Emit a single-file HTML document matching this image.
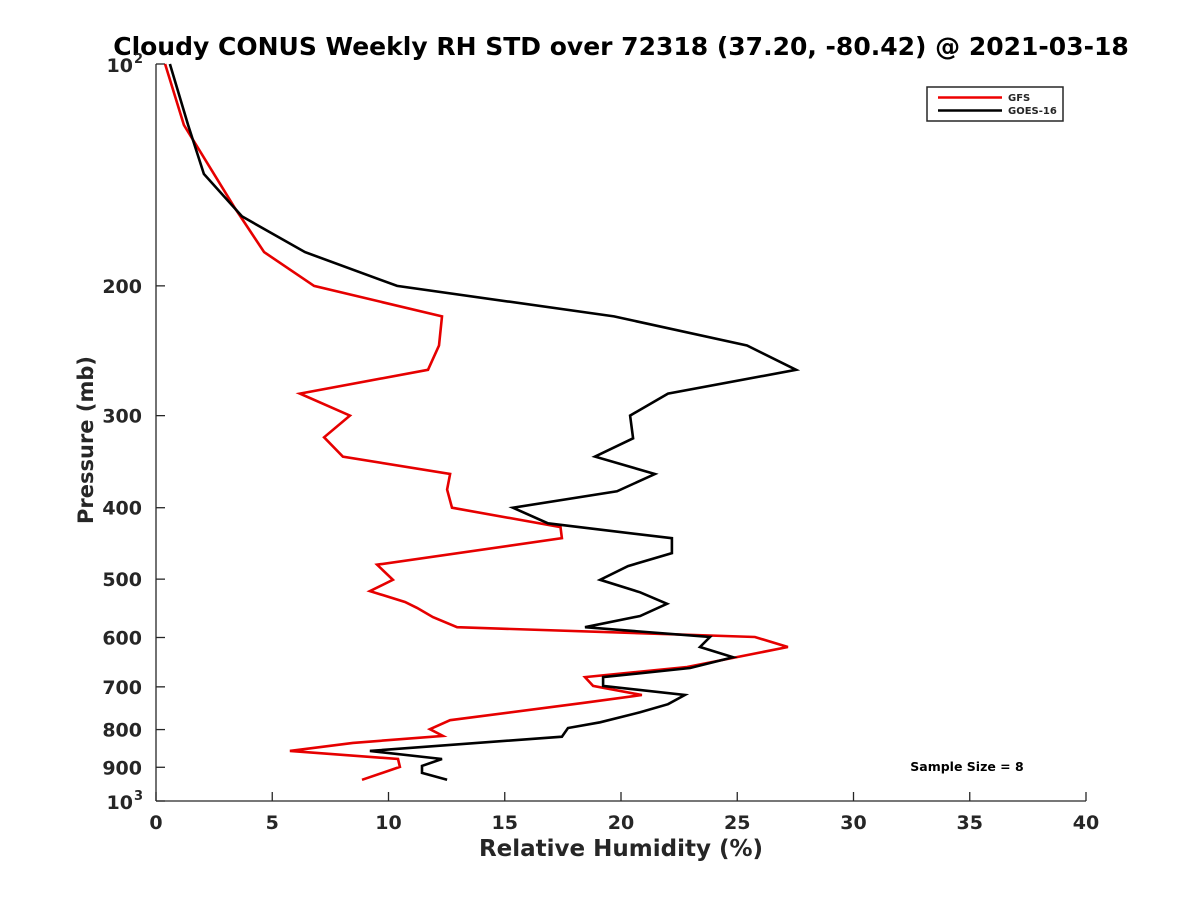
<!DOCTYPE html>
<html><head><meta charset="utf-8"><style>
body{margin:0;background:#fff;width:1200px;height:900px;overflow:hidden;font-family:"Liberation Sans","DejaVu Sans",sans-serif;}
svg text{font-family:"DejaVu Sans","Liberation Sans",sans-serif;font-weight:bold;fill:#262626;}
</style></head><body>
<svg id="chart" width="1200" height="900" xmlns="http://www.w3.org/2000/svg">
<rect width="1200" height="900" fill="#fff"/>
<text x="621" y="55" font-size="25" text-anchor="middle" style="fill:#000">Cloudy CONUS Weekly RH STD over 72318 (37.20, -80.42) @ 2021-03-18</text>
<g id="axes"></g>
<g id="series"></g>
<text x="621" y="856" font-size="23" text-anchor="middle">Relative Humidity (%)</text>
<text x="0" y="0" font-size="21" text-anchor="middle" transform="translate(93,440) rotate(-90)">Pressure (mb)</text>
<text x="967" y="771" font-size="12.5" text-anchor="middle" style="fill:#000">Sample Size = 8</text>
<g>
<rect x="927" y="87" width="136" height="34" fill="#fff" stroke="#262626" stroke-width="1.5"/>
<line x1="938" y1="97.5" x2="1002" y2="97.5" stroke="#e00" stroke-width="2.5"/>
<text x="1008" y="101" font-size="10">GFS</text>
<line x1="938" y1="110.5" x2="1002" y2="110.5" stroke="#000" stroke-width="2.5"/>
<text x="1008" y="114" font-size="10">GOES-16</text>
</g>
</svg>
<script>
const xTicks=[0,5,10,15,20,25,30,35,40];
const yTicks=[200,300,400,500,600,700,800,900];
const gfsP=[100,121,157,180,200,220,241,260,280,300,321,341,360,378,400,425,440,478,501,519,537,547,563,581,599,618,658,679,698,718,736,777,799,816,834,855,877,899,936];
const gfsRH=[0.39,1.20,3.40,4.65,6.80,12.30,12.17,11.70,6.19,8.34,7.23,8.04,12.65,12.52,12.73,17.4,17.46,9.51,10.19,9.20,10.71,11.23,11.91,12.95,25.76,27.18,22.84,18.45,18.80,20.90,18.37,12.65,11.78,12.34,8.47,5.76,10.41,10.49,8.86];
const goesP=[100,121,141,161,180,200,220,241,260,280,300,322,341,360,380,400,420,440,461,480,501,521,540,561,581,599,618,638,660,679,698,718,739,758,782,796,818,855,877,896,916,936];
const goesRH=[0.60,1.38,2.06,3.70,6.41,10.37,19.70,25.42,27.53,22.02,20.39,20.52,18.88,21.46,19.83,15.35,16.86,22.19,22.19,20.30,19.10,20.82,21.98,20.82,18.45,23.83,23.40,24.82,22.97,19.23,19.23,22.75,22.02,20.82,19.10,17.72,17.46,9.20,12.30,11.44,11.44,12.52];
const L=156,R=1086,T=64,B=801;
const xs=v=>L+(v-0)/(40-0)*(R-L);
const ys=p=>T+(Math.log10(p)-2)/(3-2)*(B-T);
const NS='http://www.w3.org/2000/svg';
function mk(t,a,parent){const e=document.createElementNS(NS,t);for(const k in a)e.setAttribute(k,a[k]);parent.appendChild(e);return e;}
const ax=document.getElementById('axes');
let e=mk('line',{x1:L,y1:B,x2:R,y2:B,stroke:'#262626','stroke-width':1.3},ax);


e=mk('line',{x1:L,y1:T,x2:L,y2:B,stroke:'#262626','stroke-width':1.3},ax);


xTicks.forEach(v=>{
 const t=mk('line',{x1:xs(v),y1:B,x2:xs(v),y2:B-9,stroke:'#262626','stroke-width':1.3},ax);
 
 
 const l=mk('text',{x:xs(v),y:B+28,'font-size':19,'text-anchor':'middle'},ax);l.textContent=v;
 
 
});
yTicks.forEach(v=>{
 const t=mk('line',{x1:L,y1:ys(v),x2:L+9,y2:ys(v),stroke:'#262626','stroke-width':1.3},ax);
 
 
 const l=mk('text',{x:L-14,y:ys(v)+7,'font-size':19,'text-anchor':'end'},ax);l.textContent=v;
 
 
});
[[100,'2'],[1000,'3']].forEach(([v,s])=>{
 const t=mk('line',{x1:L,y1:ys(v),x2:L+9,y2:ys(v),stroke:'#262626','stroke-width':1.3},ax);
 
 
 const l=mk('text',{x:L-12-11,y:ys(v)+8,'font-size':19,'text-anchor':'end'},ax);l.textContent='10';
 
 
 const s2=mk('text',{x:L-13,y:ys(v)-1,'font-size':13,'text-anchor':'end'},ax);s2.textContent=s;
 
 
});
const sg=document.getElementById('series');
function line(P,V,color,name){
 const pts=P.map((p,i)=>xs(V[i]).toFixed(1)+','+ys(p).toFixed(1)).join(' ');
 const pl=mk('polyline',{points:pts,fill:'none',stroke:color,'stroke-width':2.6,'stroke-linejoin':'miter'},sg);
 
 
}
line(gfsP,gfsRH,'#e60000','gfs-line');
line(goesP,goesRH,'#000','goes16-line');
</script>
</body></html>
